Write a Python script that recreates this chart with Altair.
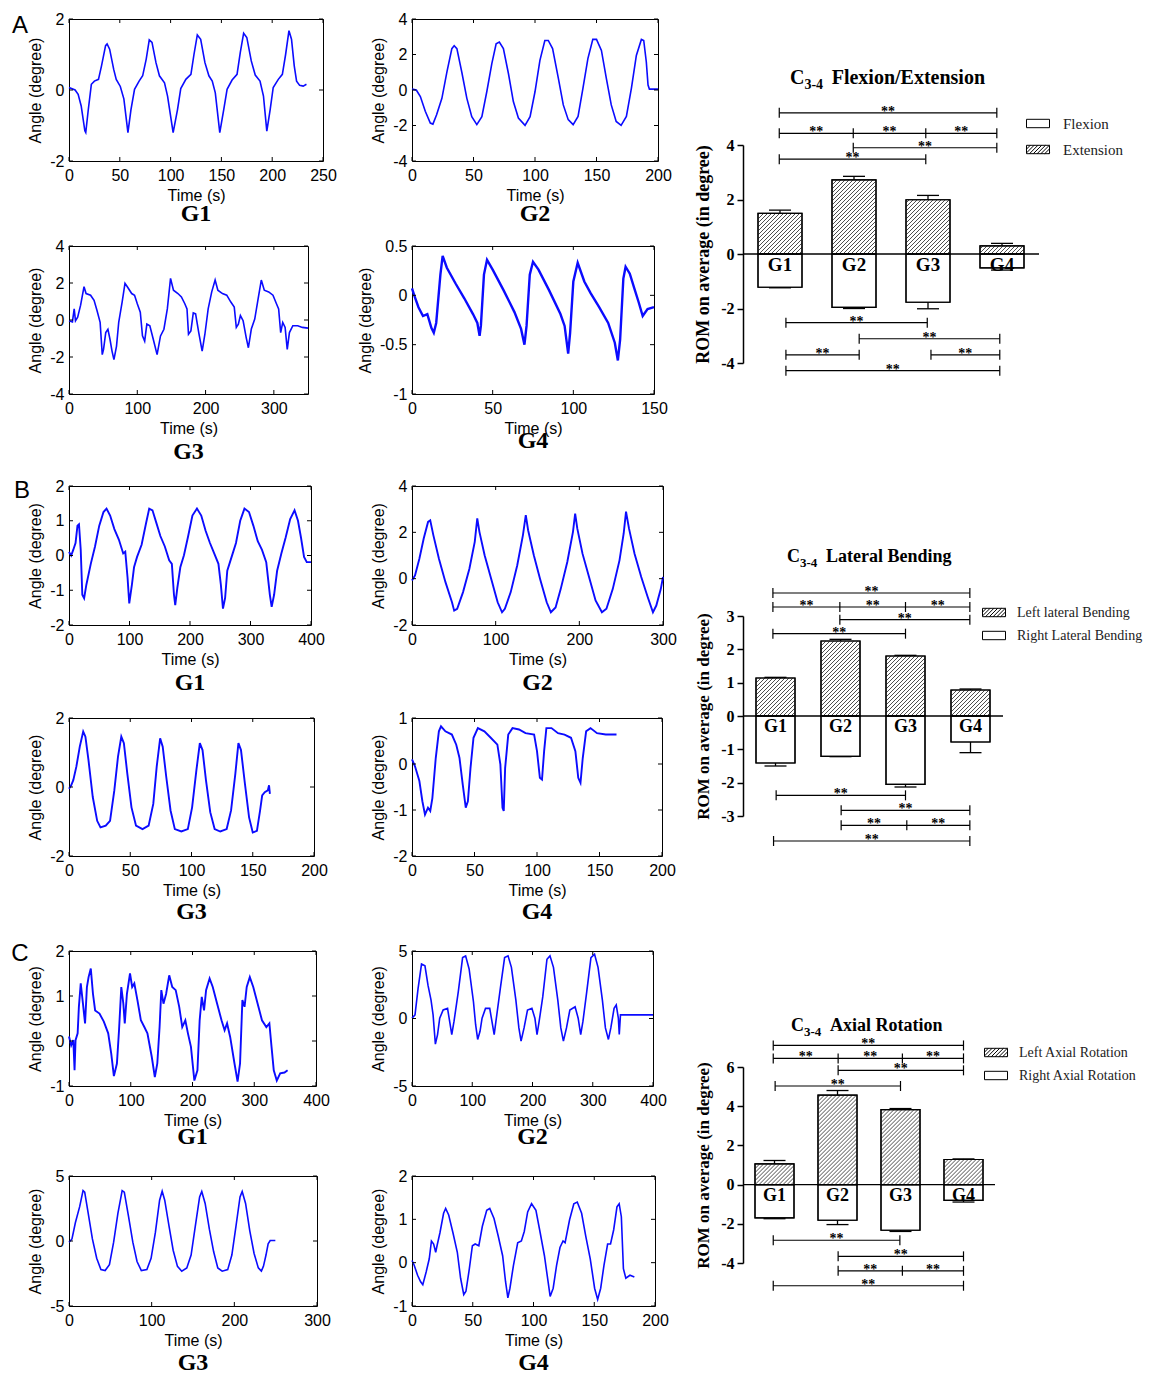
import math
import altair as alt
import pandas as pd

SANS = "Liberation Sans"
SERIF = "Liberation Serif"
BLUE = "#0b0bff"
TICK = 4

# ---------------- time series: (time s, angle deg) ----------------
A_G1 = [(0,0.07),(6,0),(9,-0.12),(12,-0.45),(15.6,-1.15),(16.5,-1.2),(19,-0.55),(22,0.16),(25,0.25),(29,0.3),
        (32,0.68),(36,1.25),(37.5,1.3),(40,1.15),(44,0.58),(46.5,0.3),(50.5,0.1),(54,-0.25),(58,-1.2),(61,-0.55),
        (64.5,0.02),(69,0.25),(72.5,0.4),(76,0.87),(79,1.41),(81.7,1.34),(85.6,0.77),(89,0.4),(94,0.2),(97,-0.17),
        (102.5,-1.2),(106.8,-0.55),(110,0.04),(115,0.3),(120,0.44),(123,1.0),(126.3,1.55),(129.6,1.43),(133.8,0.77),
        (137.7,0.4),(141,0.25),(144,-0.08),(148.4,-1.2),(152.3,-0.55),(155.6,0.02),(160.5,0.28),(165.4,0.44),
        (168.6,1.06),(171.9,1.6),(175,1.48),(179.4,0.82),(183.3,0.42),(188,0.25),(191.4,-0.17),(194.7,-1.16),
        (198,-0.55),(201,0.07),(206,0.3),(210,0.44),(213.2,1.0),(216.5,1.67),(219,1.43),(221.7,0.68),(224,0.25),
        (227,0.13),(230.5,0.11),(233.7,0.16)]
A_G2 = [(0,0.05),(3.5,0),(6.8,-0.37),(10.8,-1.2),(14.9,-1.86),(17,-1.92),(20,-1.4),(24.3,-0.47),(28.4,1.02),
        (32.4,2.33),(34.3,2.5),(36.5,2.33),(40.5,1.0),(44.6,-0.47),(48.6,-1.5),(52.7,-1.95),(56.8,-1.5),(60.8,-0.1),
        (64.9,1.49),(68.4,2.6),(71,2.7),(74.3,2.33),(78.4,0.93),(82.4,-0.65),(86.5,-1.58),(91.9,-1.99),(96,-1.5),
        (100,-0.1),(104,1.67),(108,2.79),(110.8,2.79),(114.3,2.33),(119,0.65),(123,-0.84),(127,-1.67),(131,-1.95),
        (135,-1.49),(139,0.1),(143,1.77),(147,2.85),(150,2.85),(154,2.23),(158,0.65),(162,-0.84),(166,-1.77),
        (170,-1.99),(174.3,-1.49),(178.4,0.1),(182.4,1.95),(186.5,2.85),(188.4,2.79),(190.5,1.58),(191.9,0.28),
        (193,0.05),(196,0.05),(200,0.05)]
A_G3 = [(0,-0.04),(5,-0.1),(7.6,0.6),(9.5,-0.04),(12.7,0.15),(17,0.8),(22,1.8),(25,1.43),(31.6,1.34),(36.7,1.06),
        (41,0.51),(45.6,-0.13),(48.7,-1.87),(50.6,-1.59),(53.8,-0.68),(57,-0.5),(60,-1.04),(63,-1.68),(65.8,-2.14),
        (69.6,-1.41),(72.8,-0.13),(77.8,0.97),(82,1.98),(85.4,1.8),(91.8,1.43),(96,1.34),(100,0.88),(104.4,0.42),
        (107.6,-0.86),(110.8,-1.14),(114,-0.22),(118.4,-0.31),(123.4,-1.04),(129,-1.87),(134,-0.86),(139,-0.5),
        (144,0.6),(148.7,2.25),(153,1.61),(159.5,1.43),(164.6,1.25),(169.6,0.88),(172.8,0.6),(175,-0.77),
        (178.5,-0.59),(182,0.38),(185.4,0.33),(190,-0.68),(195,-1.68),(199,-0.77),(203.8,0.6),(209,1.52),
        (214,2.16),(218,1.61),(224.7,1.43),(231,1.34),(237,0.97),(242,0.7),(245,-0.4),(248,-0.22),(251,0.24),
        (255,-0.04),(259.5,-0.95),(262.7,-1.5),(267,-0.49),(272,0.05),(277,1.15),(281.6,2.16),(286,1.61),
        (292.4,1.52),(298.7,1.34),(303.8,0.88),(307,0.6),(310,-0.68),(313,-0.13),(316.5,-0.4),(319.6,-1.59),
        (322.8,-0.68),(327.8,-0.31),(335,-0.31),(341.8,-0.4),(350,-0.44)]
A_G4 = [(0,0.07),(1.4,0.0),(4,-0.12),(6.8,-0.21),(9.5,-0.19),(12,-0.33),(13.5,-0.38),(15,-0.28),(17.6,0.21),
        (19,0.4),(21.6,0.28),(27,0.12),(32.4,-0.03),(37.8,-0.19),(40.5,-0.28),(41.9,-0.41),(42.7,-0.31),(44.6,0.21),
        (46.5,0.36),(50,0.26),(56.8,0.05),(63.5,-0.17),(67.6,-0.34),(69.7,-0.5),(71,-0.31),(73,0.21),(75,0.34),
        (78.4,0.26),(85,0.05),(92,-0.19),(94.6,-0.31),(96.8,-0.59),(98,-0.38),(100,0.14),(102.7,0.33),(106.8,0.14),
        (110.8,0.02),(116,-0.12),(121.6,-0.28),(125.7,-0.48),(127.6,-0.66),(129,-0.45),(131,0.17),(132.4,0.29),
        (135,0.22),(137.8,0.07),(140.5,-0.07),(143,-0.21),(146,-0.14),(150,-0.12)]
B_G1 = [(0,0.1),(3.6,0.0),(7,0.16),(10.8,0.36),(14,0.86),(16.5,0.9),(19.4,0.16),(22,-1.13),(25,-1.23),(28.7,-0.84),
        (36,-0.24),(43,0.26),(50,0.86),(57,1.25),(62,1.35),(68,1.15),(75,0.76),(82.4,0.46),(89.6,0.06),(93,0.11),
        (96.8,-0.64),(99.6,-1.38),(104,-0.84),(107.5,-0.34),(112.5,-0.04),(120,0.31),(127,0.9),(132.6,1.35),
        (138,1.3),(144,0.96),(151,0.56),(158.4,0.26),(165.6,-0.14),(170,-0.24),(173.5,-1.13),(175.6,-1.43),
        (179,-0.94),(184,-0.34),(190,0.01),(197,0.56),(204,1.15),(211.5,1.35),(218.6,1.15),(225.8,0.71),(233,0.36),
        (240,0.06),(247,-0.24),(251,-0.84),(254.5,-1.53),(258,-1.23),(261.6,-0.44),(268.8,-0.04),(276,0.36),
        (283,1.0),(290,1.35),(297.5,1.25),(304.7,0.86),(312,0.41),(319,0.16),(326,-0.19),(332,-1.13),(335,-1.48),
        (339,-1.13),(344,-0.44),(351,0.06),(358,0.51),(365.6,1.05),(372.8,1.3),(378.5,1.0),(383.5,0.51),
        (388.5,-0.04),(393,-0.19),(400,-0.19)]
B_G2 = [(0,-0.08),(3.6,0.14),(8.8,0.86),(14,1.73),(19.2,2.45),(21.8,2.52),(25.5,1.88),(32.2,0.86),(40,-0.15),
        (47.8,-1.02),(50.4,-1.38),(54,-1.3),(61,-0.58),(68.6,0.43),(75,1.59),(78,2.6),(80.6,2.02),(86.8,1.01),
        (94.6,0.0),(102.4,-1.02),(107.6,-1.45),(111,-1.3),(118,-0.58),(125.8,0.58),(132.6,1.88),(136,2.74),
        (138.8,2.09),(145.6,1.01),(153,0.0),(161,-1.02),(166,-1.45),(171.6,-1.24),(177.8,-0.44),(185.6,0.72),
        (192.4,2.02),(195,2.81),(197.6,2.16),(203.8,1.08),(211.6,0.07),(219.4,-0.94),(227,-1.45),(232.4,-1.3),
        (240,-0.44),(248,0.79),(253,1.95),(255.8,2.89),(259.4,2.16),(266,1.08),(274,0.07),(281.8,-0.8),
        (288,-1.45),(292,-1.16),(297.4,-0.44),(300,0.07)]
B_G3 = [(0,-0.05),(1.8,0.05),(3.5,0.2),(6,0.59),(8.8,1.17),(11.6,1.61),(13.4,1.46),(15.9,0.78),(19.4,-0.29),
        (23,-0.98),(25.7,-1.17),(30,-1.12),(33.5,-0.98),(37,-0.1),(40,0.88),(42.7,1.46),(44.8,1.27),(47.6,0.39),
        (51,-0.59),(54.7,-1.12),(60,-1.22),(65,-1.12),(68.8,-0.49),(71.6,0.59),(74.4,1.41),(76.5,1.17),(79.4,0.29),
        (82.9,-0.68),(86.4,-1.22),(91.7,-1.29),(97,-1.22),(100.5,-0.59),(104,0.49),(106.8,1.27),(109,1.07),
        (111.8,0.2),(115.3,-0.73),(118.9,-1.22),(123.5,-1.29),(128.7,-1.22),(132.3,-0.68),(135.8,0.39),
        (138.3,1.27),(140.4,1.07),(143.6,0.1),(147,-0.88),(150,-1.32),(153.4,-1.27),(156,-0.68),(157.7,-0.24),
        (159.8,-0.15),(162.3,-0.1),(163.3,0.05),(164,-0.2)]
B_G4 = [(0,0.1),(2.4,-0.05),(5.9,-0.37),(8.3,-0.81),(10.4,-1.1),(12.8,-0.95),(14.6,-1.02),(16.3,-0.74),(19,0.13),
        (21.5,0.71),(23.2,0.82),(26.7,0.71),(31.9,0.64),(35.4,0.42),(38,0.13),(40.6,-0.45),(43,-0.95),(44.7,-0.81),
        (46.8,-0.09),(49.2,0.57),(52.7,0.78),(57.9,0.71),(63,0.57),(68.3,0.42),(70.7,-0.01),(72.4,-0.95),
        (73.4,-1.02),(74.5,-0.09),(77,0.64),(80.4,0.78),(85.6,0.75),(90.8,0.67),(97.7,0.64),(100,0.28),(102.3,-0.3),
        (104,-0.34),(105.7,0.28),(107.5,0.78),(111.6,0.78),(116.8,0.67),(122,0.64),(127.2,0.57),(130.7,0.28),
        (133,-0.3),(134.8,-0.41),(136.6,0.13),(139.3,0.71),(142.8,0.78),(148,0.67),(155,0.64),(163.6,0.64)]
C_G1 = [(0,0.1),(3.5,-0.1),(7,0.02),(9,-0.65),(10.6,0.02),(14,0.17),(16,0.76),(19,1.28),(22.6,0.83),(26,0.39),
        (29,1.2),(31.7,1.42),(35.3,1.61),(38.8,1.05),(42.3,0.68),(49.4,0.61),(56.4,0.43),(63.5,0.17),(68.4,-0.28),
        (72.7,-0.78),(77.6,-0.5),(81,0.24),(84.7,1.2),(88,0.83),(90.3,0.39),(93.8,1.05),(98.8,1.5),(102.3,1.2),
        (105.8,1.28),(110.8,0.91),(116.4,0.46),(122,0.31),(127,0.17),(134,-0.35),(139,-0.8),(143,-0.5),
        (146.7,0.31),(149.5,1.13),(153,0.83),(157.3,1.05),(162.3,1.46),(167.2,1.2),(172.8,1.13),(178.5,0.76),
        (183.4,0.31),(188.4,0.46),(192.6,0.17),(197.5,-0.13),(203,-0.88),(208,-0.65),(211.6,0.46),(215,0.98),
        (218.7,0.68),(222,1.13),(227.7,1.39),(232.8,1.2),(239.9,0.83),(247,0.46),(252,0.24),(256,0.39),(261,0.09),
        (268,-0.5),(273,-0.9),(277,-0.5),(280.8,0.91),(284.3,0.76),(287.8,1.2),(292.8,1.42),(298.4,1.2),
        (305.5,0.83),(312.5,0.46),(319.6,0.31),(324.5,0.39),(328,-0.13),(331.6,-0.65),(336.5,-0.88),(342,-0.72),
        (349,-0.7),(354,-0.65)]
C_G2 = [(0,0.02),(5,0.27),(10,2.2),(15.8,4.03),(21.5,3.9),(26.6,2.45),(31.6,1.36),(35,0.27),(38.8,-1.9),
        (42.4,-1.19),(46,0.02),(51.7,0.63),(59,0.75),(62.5,-0.22),(66,-1.19),(69.7,-0.22),(76.8,1.97),(84,4.51),
        (89,4.64),(94.8,3.67),(102,1.24),(105.6,-0.46),(109,-1.55),(112.9,-0.95),(116.3,0.02),(122,0.75),
        (129,0.75),(132.7,-0.22),(136.4,-1.19),(140,0.02),(146.5,2.2),(153.7,4.51),(159.4,4.64),(165,3.79),
        (172.4,1.36),(177.4,-0.7),(181,-1.67),(186,-0.7),(191.7,0.63),(199,0.75),(204,0.02),(207.5,-1.19),
        (211,-0.22),(217,1.6),(224,4.39),(229,4.64),(234.8,3.79),(242,1.36),(247,-0.7),(251.3,-1.67),
        (256.4,-0.7),(262,0.63),(270.7,0.87),(275.8,0.02),(280,-1.19),(283.7,-0.22),(290,1.97),(297,4.51),
        (303,4.76),(308.8,3.79),(316,1.36),(321,-0.7),(326,-1.55),(330,-0.7),(335.4,0.75),(339,1.0),(342.5,0.02),
        (344,-1.19),(346,0.27),(360.5,0.27),(400,0.27)]
C_G3 = [(0,-0.09),(3.6,0.16),(7.7,1.4),(12.9,2.64),(17,3.88),(19,3.76),(23.2,2.15),(28.3,0.16),(33.5,-1.33),
        (38.6,-2.2),(43.7,-2.27),(48.9,-1.82),(54,-0.09),(59.2,2.15),(64.3,3.88),(66.9,3.76),(72,1.9),(77.2,-0.09),
        (82.3,-1.58),(87.5,-2.27),(94.2,-2.2),(99.3,-1.33),(104.5,0.66),(109.6,3.14),(112.7,3.83),(115.8,3.14),
        (121,1.15),(126,-0.71),(131.2,-1.95),(136.4,-2.32),(142.5,-2.07),(147.7,-1.08),(152.8,1.15),(158,3.39),
        (160.6,3.81),(164.7,2.89),(169.8,0.91),(175,-0.83),(180,-2.07),(185.3,-2.32),(192,-2.2),(197,-1.08),
        (202,1.15),(206.9,3.39),(209.5,3.81),(213.6,2.89),(218.7,0.78),(223.9,-0.96),(229,-2.07),(232.7,-2.32),
        (235.2,-1.95),(238.3,-1.08),(240.9,-0.21),(243.4,0.04),(249.6,0.04)]
C_G4 = [(0,0.05),(1.8,-0.06),(4.6,-0.29),(7.1,-0.44),(8.9,-0.51),(11.7,-0.21),(14.2,0.09),(16,0.5),(17.8,0.43),
        (19.5,0.24),(20.6,0.39),(23,0.69),(26,1.14),(27.7,1.25),(30.2,1.1),(33.7,0.69),(37.3,0.24),(40,-0.36),
        (42.6,-0.74),(44.4,-0.66),(47.2,-0.14),(49.7,0.39),(52,0.43),(55,0.39),(57.9,0.84),(61.5,1.21),(64,1.25),
        (67.5,1.02),(71,0.61),(74.6,0.16),(77,-0.44),(78.9,-0.81),(80.6,-0.59),(83.5,-0.06),(87,0.46),(90,0.5),
        (92.4,0.72),(95.2,1.17),(98.4,1.36),(102,1.21),(105.5,0.69),(109,0.16),(112,-0.44),(113.7,-0.78),
        (116.2,-0.59),(119,-0.06),(121.8,0.35),(124.3,0.5),(126,0.46),(129.7,0.99),(133.2,1.36),(136,1.4),
        (139.6,1.14),(143,0.61),(146.7,0.09),(150.3,-0.59),(152.8,-0.85),(155.3,-0.59),(158,-0.06),(161,0.43),
        (163.4,0.43),(166,0.76),(168.7,1.29),(170.5,1.36),(172.3,1.06),(174,-0.14),(176,-0.36),(179.4,-0.29),
        (183,-0.33)]

# ---------------- bar chart values (degrees) ----------------
CATS = ["G1", "G2", "G3", "G4"]
FE_EXT = [1.49, 2.72, 1.99, 0.30]
FE_EXT_ERR = [1.61, 2.85, 2.15, 0.39]
FE_FLEX = [-1.22, -1.96, -1.77, -0.51]
FE_FLEX_ERR = [-1.24, -2.00, -2.01, -0.59]
LB_LEFT = [1.14, 2.25, 1.80, 0.78]
LB_LEFT_ERR = [1.16, 2.30, 1.82, 0.81]
LB_RIGHT = [-1.41, -1.21, -2.05, -0.78]
LB_RIGHT_ERR = [-1.50, -1.22, -2.13, -1.10]
AR_LEFT = [1.06, 4.57, 3.83, 1.28]
AR_LEFT_ERR = [1.23, 4.80, 3.88, 1.31]
AR_RIGHT = [-1.70, -1.82, -2.33, -0.80]
AR_RIGHT_ERR = [-1.74, -2.04, -2.39, -0.89]

# significance brackets: (level, boundaries on the group axis)
FE_BRACKETS = [(5.18, [0.49, 3.43]), (4.43, [0.49, 1.49, 2.47, 3.43]), (3.90, [1.49, 3.43]), (3.48, [0.49, 2.47]),
               (-2.52, [0.58, 2.49]), (-3.11, [1.57, 3.47]), (-3.70, [0.58, 1.57]), (-3.70, [2.54, 3.47]),
               (-4.28, [0.58, 3.47])]
LB_BRACKETS = [(3.69, [0.46, 3.49]), (3.27, [0.46, 1.49, 2.50, 3.49]), (2.89, [1.49, 3.49]), (2.47, [0.46, 2.50]),
               (-2.38, [0.51, 2.50]), (-2.83, [1.51, 3.49]), (-3.28, [1.51, 2.52, 3.49]), (-3.75, [0.47, 3.49])]
AR_BRACKETS = [(7.10, [0.48, 3.50]), (6.44, [0.48, 1.51, 2.53, 3.50]), (5.83, [1.51, 3.50]), (5.03, [0.51, 2.50]),
               (-2.84, [0.48, 2.49]), (-3.66, [1.51, 3.50]), (-4.40, [1.51, 2.53, 3.50]), (-5.16, [0.48, 3.50])]


def one_row(**kw):
    return pd.DataFrame([kw])


def time_plot(series, xmax, xticks, ydom, yticks, w, h, name, name_dy, lw=1.6, letter=None):
    df = pd.DataFrame(series, columns=["t", "v"])
    xs = alt.Scale(domain=[0, xmax], nice=False, zero=False)
    ys = alt.Scale(domain=ydom, nice=False, zero=False)
    common = dict(domain=False, ticks=False, tickSize=0, grid=False, labelFont=SANS, labelFontSize=16,
                  labelColor="black", labelFlush=False, labelOverlap=False, labelExpr="toString(datum.value)",
                  titleFont=SANS, titleFontSize=16, titleFontWeight="normal", titleColor="black")
    xax = alt.Axis(values=xticks, title="Time (s)", labelPadding=6, titlePadding=4, **common)
    yax = alt.Axis(values=yticks, title="Angle (degree)", labelPadding=5, titlePadding=6, **common)
    X = alt.X("t:Q", scale=xs, axis=xax)
    Y = alt.Y("v:Q", scale=ys, axis=yax)
    line = alt.Chart(df).mark_line(color=BLUE, strokeWidth=lw).encode(x=X, y=Y)
    ytk = alt.Chart(pd.DataFrame({"v": yticks}))
    xtk = alt.Chart(pd.DataFrame({"t": xticks}))
    yl = ytk.mark_rule(color="black", strokeWidth=1).encode(y=Y, x=alt.value(0), x2=alt.value(TICK))
    yr = ytk.mark_rule(color="black", strokeWidth=1).encode(y=Y, x=alt.value(w - TICK), x2=alt.value(w))
    xb = xtk.mark_rule(color="black", strokeWidth=1).encode(x=X, y=alt.value(h - TICK), y2=alt.value(h))
    xt = xtk.mark_rule(color="black", strokeWidth=1).encode(x=X, y=alt.value(0), y2=alt.value(TICK))
    lab = alt.Chart(pd.DataFrame({"n": [name]})).mark_text(
        font=SERIF, fontWeight="bold", fontSize=24, align="center", baseline="middle", color="black"
    ).encode(x=alt.value(w / 2.0), y=alt.value(h + name_dy), text="n:N")
    layers = [line, yl, yr, xb, xt, lab]
    if letter is not None:
        txt, lx, ly = letter
        layers.append(alt.Chart(pd.DataFrame({"n": [txt]})).mark_text(
            font=SANS, fontSize=24, align="center", baseline="middle", color="black"
        ).encode(x=alt.value(lx), y=alt.value(ly), text="n:N"))
    return alt.layer(*layers).properties(width=w, height=h,
                                         view=alt.ViewBackground(stroke="black", strokeWidth=1))


def spacer(hh):
    return alt.Chart(pd.DataFrame({"s": [0]})).mark_point(opacity=0).encode(
        x=alt.X("s:Q", axis=None), y=alt.Y("s:Q", axis=None)).properties(width=1, height=hh)


def hatch_segments(cx, val, kx, ky, bw, step=4.0):
    X0 = cx * kx - bw / 2.0
    X1 = X0 + bw
    Y0, Y1 = 0.0, val * ky
    segs = []
    k0 = int(math.floor((Y0 - X1) / step))
    k1 = int(math.ceil((Y1 - X0) / step))
    for k in range(k0, k1 + 1):
        b = k * step
        xs = max(X0, Y0 - b)
        xe = min(X1, Y1 - b)
        if xe - xs > 0.3:
            segs.append({"x": xs / kx, "y": (xs + b) / ky, "x2": xe / kx, "y2": (xe + b) / ky})
    return segs


def rect_path(hatch):
    W, H = 1.15, 0.42
    p = "M%.2f,%.2fH%.2fV%.2fH%.2fZ" % (-W, -H, W, H, -W)
    if hatch:
        s = 0.38
        b = -W - H + s
        while b < W + H:
            xs = max(-W, b - H)
            xe = min(W, b + H)
            p += "M%.3f,%.3fL%.3f,%.3f" % (xs, -xs + b, xe, -xe + b)
            b += s
    return p


def bar_panel(pos, pos_err, neg, neg_err, brackets, ydom, yticks, w, h, bw,
              legend_labels, legend_hatch, lx, ly, lfont, lrow, loff,
              title_rest, tx, tsub, trest, ty, tsize, subsize, gsize, ytsize):
    kx = w / 4.0
    ky = h / float(ydom[1] - ydom[0])
    centers = [i + 0.5 for i in range(len(CATS))]
    half = bw / 2.0 / kx
    cap = 11.0 / kx
    tk = 5.0 / ky

    X = alt.X("x:Q", scale=alt.Scale(domain=[0, 4], nice=False, zero=False), axis=None)
    yax = alt.Axis(values=yticks, title="ROM on average (in degree)", grid=False,
                   domain=True, domainColor="black", domainWidth=1.5,
                   ticks=True, tickColor="black", tickWidth=1.5, tickSize=6,
                   labelFont=SERIF, labelFontWeight="bold", labelFontSize=16, labelColor="black",
                   labelPadding=3, labelExpr="toString(datum.value)", labelFlush=False, labelOverlap=False,
                   titleFont=SERIF, titleFontWeight="bold", titleFontSize=ytsize, titleColor="black",
                   titlePadding=8)
    Y = alt.Y("y:Q", scale=alt.Scale(domain=ydom, nice=False, zero=False), axis=yax)
    X2 = alt.X2("x2")
    Y2 = alt.Y2("y2")

    bar_rows, hatch_rows, err_rows, cap_rows = [], [], [], []
    for c, p, pe, n, ne in zip(centers, pos, pos_err, neg, neg_err):
        bar_rows.append({"x": c - half, "x2": c + half, "y": 0.0, "y2": p})
        bar_rows.append({"x": c - half, "x2": c + half, "y": 0.0, "y2": n})
        hatch_rows += hatch_segments(c, p, kx, ky, bw)
        err_rows.append({"x": c, "y": p, "y2": pe})
        err_rows.append({"x": c, "y": n, "y2": ne})
        cap_rows.append({"x": c - cap, "x2": c + cap, "y": pe})
        cap_rows.append({"x": c - cap, "x2": c + cap, "y": ne})

    h_rows, t_rows, l_rows = [], [], []
    for yb, xs in brackets:
        h_rows.append({"x": xs[0], "x2": xs[-1], "y": yb})
        for xi in xs:
            t_rows.append({"x": xi, "y": yb - tk, "y2": yb + tk})
        for a, b in zip(xs[:-1], xs[1:]):
            l_rows.append({"x": (a + b) / 2.0, "y": yb, "s": "**"})

    bars = alt.Chart(pd.DataFrame(bar_rows)).mark_rect(fill="white", stroke="black", strokeWidth=1.2).encode(
        x=X, x2=X2, y=Y, y2=Y2)
    hatch = alt.Chart(pd.DataFrame(hatch_rows)).mark_rule(color="#3a3a3a", strokeWidth=0.9).encode(
        x=X, x2=X2, y=Y, y2=Y2)
    outline = alt.Chart(pd.DataFrame(bar_rows)).mark_rect(fillOpacity=0, stroke="black", strokeWidth=1.2).encode(
        x=X, x2=X2, y=Y, y2=Y2)
    errs = alt.Chart(pd.DataFrame(err_rows)).mark_rule(color="black", strokeWidth=1.3).encode(x=X, y=Y, y2=Y2)
    caps = alt.Chart(pd.DataFrame(cap_rows)).mark_rule(color="black", strokeWidth=1.3).encode(x=X, x2=X2, y=Y)
    zero = alt.Chart(one_row(x=0.0, x2=4.0, y=0.0)).mark_rule(color="black", strokeWidth=1.3).encode(
        x=X, x2=X2, y=Y)
    glab = alt.Chart(pd.DataFrame({"x": centers, "y": [0.0] * 4, "g": CATS})).mark_text(
        font=SERIF, fontWeight="bold", fontSize=gsize, baseline="top", dy=2, color="black").encode(
        x=X, y=Y, text="g:N")
    br_h = alt.Chart(pd.DataFrame(h_rows)).mark_rule(color="black", strokeWidth=1.2).encode(x=X, x2=X2, y=Y)
    br_t = alt.Chart(pd.DataFrame(t_rows)).mark_rule(color="black", strokeWidth=1.2).encode(x=X, y=Y, y2=Y2)
    br_l = alt.Chart(pd.DataFrame(l_rows)).mark_text(
        font=SERIF, fontWeight="bold", fontSize=14, baseline="alphabetic", dy=3, color="black").encode(
        x=X, y=Y, text="s:N")

    paths = [rect_path(hh) for hh in legend_hatch]
    leg = alt.Chart(one_row(x=0.0, y=0.0, k=legend_labels[0])).transform_filter("false").mark_point(
        filled=False, color="black", strokeWidth=1, opacity=1).encode(
        x=X, y=Y,
        shape=alt.Shape("k:N", scale=alt.Scale(domain=legend_labels, range=paths),
                        legend=alt.Legend(title=None, orient="none", legendX=lx, legendY=ly,
                                          labelFont=SERIF, labelFontSize=lfont, labelColor="#222222",
                                          symbolSize=400, symbolStrokeWidth=1, symbolStrokeColor="black",
                                          symbolOpacity=1, rowPadding=lrow, labelOffset=loff)))

    def ttext(s, x, y, size):
        return alt.Chart(pd.DataFrame({"s": [s]})).mark_text(
            font=SERIF, fontWeight="bold", fontSize=size, align="left", baseline="alphabetic",
            color="black").encode(x=alt.value(x), y=alt.value(y), text="s:N")

    titles = [ttext("C", tx, ty, tsize), ttext("3-4", tsub, ty + 5, subsize), ttext(title_rest, trest, ty, tsize)]

    return alt.layer(bars, hatch, outline, errs, caps, zero, glab, br_h, br_t, br_l, leg, *titles).properties(
        width=w, height=h)


# ---------------- panels ----------------
pA1 = time_plot(A_G1, 250, [0, 50, 100, 150, 200, 250], [-2, 2], [-2, 0, 2], 254, 142, "G1", 53,
                letter=("A", -49, 7))
pA2 = time_plot(A_G2, 200, [0, 50, 100, 150, 200], [-4, 4], [-4, -2, 0, 2, 4], 246, 142, "G2", 53)
pA3 = time_plot(A_G3, 350, [0, 100, 200, 300], [-4, 4], [-4, -2, 0, 2, 4], 239, 148, "G3", 58)
pA4 = time_plot(A_G4, 150, [0, 50, 100, 150], [-1, 0.5], [-1, -0.5, 0, 0.5], 242, 148, "G4", 47, lw=2.4)
pB1 = time_plot(B_G1, 400, [0, 100, 200, 300, 400], [-2, 2], [-2, -1, 0, 1, 2], 242, 139, "G1", 58, lw=1.9,
                letter=("B", -47, 5))
pB2 = time_plot(B_G2, 300, [0, 100, 200, 300], [-2, 4], [-2, 0, 2, 4], 251, 139, "G2", 58, lw=1.9)
pB3 = time_plot(B_G3, 200, [0, 50, 100, 150, 200], [-2, 2], [-2, 0, 2], 245, 138, "G3", 56, lw=1.9)
pB4 = time_plot(B_G4, 200, [0, 50, 100, 150, 200], [-2, 1], [-2, -1, 0, 1], 250, 138, "G4", 56, lw=1.9)
pC1 = time_plot(C_G1, 400, [0, 100, 200, 300, 400], [-1, 2], [-1, 0, 1, 2], 247, 135, "G1", 51, lw=1.9,
                letter=("C", -49, 3))
pC2 = time_plot(C_G2, 400, [0, 100, 200, 300, 400], [-5, 5], [-5, 0, 5], 241, 135, "G2", 51)
pC3 = time_plot(C_G3, 300, [0, 100, 200, 300], [-5, 5], [-5, 0, 5], 248, 130, "G3", 57)
pC4 = time_plot(C_G4, 200, [0, 50, 100, 150, 200], [-1, 2], [-1, 0, 1, 2], 243, 130, "G4", 57)

barA = bar_panel(FE_EXT, FE_EXT_ERR, FE_FLEX, FE_FLEX_ERR, FE_BRACKETS, [-4, 4], [-4, -2, 0, 2, 4], 296, 218, 44,
                 ["Flexion", "Extension"], [False, True], 284.5, -32, 15, 7, 14.5,
                 "Flexion/Extension", 47, 61.4, 88.7, -61, 20, 14, 19, 18)
barB = bar_panel(LB_LEFT, LB_LEFT_ERR, LB_RIGHT, LB_RIGHT_ERR, LB_BRACKETS, [-3, 3], [-3, -2, -1, 0, 1, 2, 3],
                 260, 200, 39,
                 ["Left lateral Bending", "Right Lateral Bending"], [True, False], 240.5, -14, 14, 5, 12.5,
                 "Lateral Bending", 44, 57, 83, -54, 18, 13, 18, 17)
barC = bar_panel(AR_LEFT, AR_LEFT_ERR, AR_RIGHT, AR_RIGHT_ERR, AR_BRACKETS, [-4, 6], [-4, -2, 0, 2, 4, 6],
                 252, 196, 39,
                 ["Left Axial Rotation", "Right Axial Rotation"], [True, False], 242.5, -25, 14, 5, 12.5,
                 "Axial Rotation", 48, 61, 87, -36, 18, 13, 18, 17)

GAPS = [85, 92, 93, 95, 90]
col1 = alt.vconcat(pA1, spacer(GAPS[0]), pA3, spacer(GAPS[1]), pB1, spacer(GAPS[2]), pB3, spacer(GAPS[3]),
                   pC1, spacer(GAPS[4]), pC3, spacing=0, bounds="flush")
col2 = alt.vconcat(pA2, spacer(GAPS[0]), pA4, spacer(GAPS[1]), pB2, spacer(GAPS[2]), pB4, spacer(GAPS[3]),
                   pC2, spacer(GAPS[4]), pC4, spacing=0, bounds="flush")
col3 = alt.vconcat(spacer(126), barA, spacer(253), barB, spacer(251), barC, spacing=0, bounds="flush"
                   ).resolve_scale(shape="independent").resolve_legend(shape="independent")

inner = alt.hconcat(col1, col2, spacing=19)
chart = alt.hconcat(inner, col3, spacing=17).resolve_scale(shape="independent").resolve_legend(
    shape="independent").properties(
    padding={"left": 10, "top": 10, "right": 5, "bottom": 5}
).configure(background="white").configure_view(stroke="transparent")

chart.save("out.html", embed_options={"renderer": "svg", "actions": False})
